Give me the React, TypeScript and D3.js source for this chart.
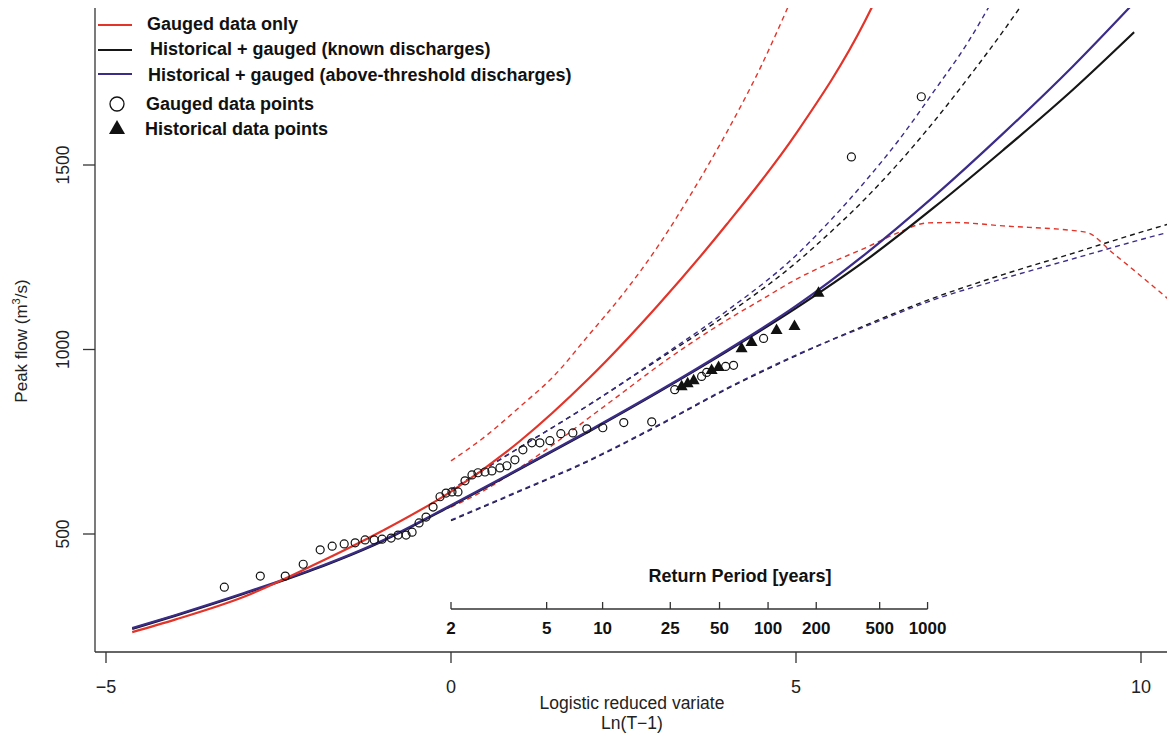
import React from "react";
import * as d3 from "d3";

// ---- data ----
const gaugedV = [-3.285,-2.764,-2.402,-2.142,-1.896,-1.722,-1.548,-1.389,-1.245,-1.114,-0.999,-0.868,-0.767,-0.651,-0.564,-0.463,-0.362,-0.26,-0.159,-0.072,0.014,0.101,0.203,0.304,0.391,0.492,0.593,0.709,0.81,0.926,1.042,1.172,1.288,1.433,1.592,1.766,1.968,2.2,2.504,2.909,3.242,3.632,3.705,3.98,4.095,4.53,5.803,6.816];
const gaugedQ = [356,386,386,418,457,467,473,476,484,484,486,489,497,497,505,530,546,573,601,611,614,614,644,660,666,668,671,679,685,701,728,747,747,753,772,774,785,788,802,804,891,927,938,954,957,1030,1522,1685];

const histV = [3.343,3.43,3.517,3.777,3.878,4.211,4.356,4.718,4.978,5.326];
const histQ = [902,910,918,946,954,1005,1022,1054,1065,1155];

const gaugedFitV = [-4.62,-4,-3,-2,-1,0,1,2,3,4,5,6,6.12];
const gaugedFitQ = [234,268,330,415,508,615,752,922,1120,1340,1585,1890,1935];
const gaugedUpV = [0,0.5,1,1.5,2,2.5,3,3.5,4,4.5,4.9];
const gaugedUpQ = [698,765,845,930,1040,1152,1280,1428,1590,1770,1935];
const gaugedLoV = [0,0.5,1,1.5,2,2.5,3,3.5,4,4.5,5,5.5,6,6.5,6.9,7.3,8,9.2,9.6,10.4];
const gaugedLoQ = [573,620,680,745,815,885,955,1020,1080,1135,1190,1235,1275,1318,1343,1344,1335,1318,1260,1136];

const knownV = [-4.62,-4,-3,-2,-1,0,1,2,3,4,5,6,7,8,9,9.9];
const knownQ = [243,278,338,403,480,576,676,778,884,995,1112,1240,1385,1540,1702,1860];
const knownUpV = [0,1,2,3,4,5,5.5,6,6.5,7,7.5,8,8.25];
const knownUpQ = [620,735,850,972,1095,1235,1318,1408,1508,1618,1737,1862,1928];
const knownLoV = [0,1,2,3,4,5,6,7,8,9,10,10.4];
const knownLoQ = [536,616,698,793,893,983,1065,1140,1203,1260,1318,1340];

const aboveV = [-4.62,-4,-3,-2,-1,0,1,2,3,4,5,6,7,8,9,9.9];
const aboveQ = [245,280,340,405,482,578,678,780,886,998,1118,1258,1415,1585,1765,1940];
const aboveUpV = [0,1,2,3,4,5,5.5,6,6.5,7,7.5,7.8];
const aboveUpQ = [620,735,850,975,1105,1255,1350,1455,1570,1700,1835,1930];
const aboveLoV = [0,1,2,3,4,5,6,7,8,9,10,10.4];
const aboveLoQ = [538,618,700,795,895,985,1062,1135,1192,1245,1298,1318];

const xTicks = [-5, 0, 5, 10];
const yTicks = [500, 1000, 1500];
const returnPeriods = [2, 5, 10, 25, 50, 100, 200, 500, 1000];

const legendItems = [
  "Gauged data only",
  "Historical + gauged (known discharges)",
  "Historical + gauged (above-threshold discharges)",
  "Gauged data points",
  "Historical data points",
];

const RED = "#e3342a";
const PURPLE = "#3b2c8a";
const BLACK = "#161616";
const FONT = "'Liberation Sans', Arial, Helvetica, sans-serif";

export default function App() {
  const W = 1167, H = 733;
  const left = 95, right = 1167, top = 8, bottom = 652;
  const x = d3.scaleLinear().domain([-5, 10]).range([106, 1141]);
  const y = d3.scaleLinear().domain([500, 1500]).range([534, 165]);

  const line = (vs: number[], qs: number[]) =>
    d3.line<number>().x((_, i) => x(vs[i])).y((q) => y(q)).curve(d3.curveMonotoneX)(qs) || "";

  const dashed = "5,4";
  const rpY = 609;

  return (
    <svg width={W} height={H} style={{ position: "absolute", left: 0, top: 0, background: "#fff" }} fontFamily={FONT}>
      <defs>
        <clipPath id="plot">
          <rect x={left} y={top} width={right - left} height={bottom - top} />
        </clipPath>
      </defs>
      <rect x={0} y={0} width={W} height={H} fill="#fff" />

      <g clipPath="url(#plot)" fill="none">
        {/* confidence bounds */}
        <path d={line(gaugedUpV, gaugedUpQ)} stroke={RED} strokeWidth={1.4} strokeDasharray={dashed} />
        <path d={line(gaugedLoV, gaugedLoQ)} stroke={RED} strokeWidth={1.4} strokeDasharray={dashed} />
        <path d={line(knownUpV, knownUpQ)} stroke={BLACK} strokeWidth={1.4} strokeDasharray={dashed} />
        <path d={line(knownLoV, knownLoQ)} stroke={BLACK} strokeWidth={1.4} strokeDasharray={dashed} />
        <path d={line(aboveUpV, aboveUpQ)} stroke={PURPLE} strokeWidth={1.4} strokeDasharray={dashed} />
        <path d={line(aboveLoV, aboveLoQ)} stroke={PURPLE} strokeWidth={1.4} strokeDasharray={dashed} />
        {/* fitted curves */}
        <path d={line(knownV, knownQ)} stroke={BLACK} strokeWidth={2.2} />
        <path d={line(aboveV, aboveQ)} stroke={PURPLE} strokeWidth={2.2} />
        <path d={line(gaugedFitV, gaugedFitQ)} stroke={RED} strokeWidth={2.2} />
        {/* points */}
        {gaugedV.map((v, i) => (
          <circle key={"g" + i} cx={x(v)} cy={y(gaugedQ[i])} r={4} stroke="#111" strokeWidth={1.2} fill="none" />
        ))}
        {histV.map((v, i) => {
          const cx = x(v), cy = y(histQ[i]);
          return (
            <path key={"h" + i} d={`M${cx},${cy - 6}L${cx + 6},${cy + 4.5}L${cx - 6},${cy + 4.5}Z`} fill="#111" stroke="none" />
          );
        })}
      </g>

      {/* axes frame (L shape) */}
      <line x1={left} y1={top} x2={left} y2={bottom} stroke="#333" strokeWidth={1.3} />
      <line x1={left} y1={bottom} x2={right} y2={bottom} stroke="#333" strokeWidth={1.3} />

      {/* x ticks */}
      {xTicks.map((t) => (
        <g key={"xt" + t}>
          <line x1={x(t)} x2={x(t)} y1={bottom} y2={bottom + 11} stroke="#333" strokeWidth={1.3} />
          <text x={x(t)} y={693} fontSize={18} textAnchor="middle" fill="#222">
            {t < 0 ? "\u2212" + Math.abs(t) : t}
          </text>
        </g>
      ))}
      <text x={632} y={709} fontSize={17.5} textAnchor="middle" fill="#222">Logistic reduced variate</text>
      <text x={632} y={729} fontSize={17.5} textAnchor="middle" fill="#222">Ln(T{"\u2212"}1)</text>

      {/* y ticks */}
      {yTicks.map((t) => (
        <g key={"yt" + t}>
          <line x1={left - 12} x2={left} y1={y(t)} y2={y(t)} stroke="#333" strokeWidth={1.3} />
          <text transform={`translate(69,${y(t)}) rotate(-90)`} fontSize={17.5} textAnchor="middle" fill="#222">
            {t}
          </text>
        </g>
      ))}
      <text transform="translate(27,341) rotate(-90)" fontSize={17} textAnchor="middle" fill="#222">
        Peak flow (m<tspan dy={-7} fontSize={11}>3</tspan><tspan dy={7}>/s)</tspan>
      </text>

      {/* return period axis */}
      <text x={740} y={582} fontSize={18} fontWeight="bold" textAnchor="middle" fill="#111">Return Period [years]</text>
      <line x1={x(Math.log(1))} x2={x(Math.log(999))} y1={rpY} y2={rpY} stroke="#333" strokeWidth={1.3} />
      {returnPeriods.map((T) => {
        const px = x(Math.log(T - 1));
        return (
          <g key={"rp" + T}>
            <line x1={px} x2={px} y1={rpY - 7} y2={rpY} stroke="#333" strokeWidth={1.3} />
            <text x={px} y={634} fontSize={17} fontWeight="bold" textAnchor="middle" fill="#111">{T}</text>
          </g>
        );
      })}

      {/* legend */}
      <line x1={98} x2={132} y1={25} y2={25} stroke={RED} strokeWidth={2} />
      <line x1={98} x2={132} y1={50} y2={50} stroke={BLACK} strokeWidth={2} />
      <line x1={98} x2={132} y1={74} y2={74} stroke={PURPLE} strokeWidth={2} />
      <circle cx={117} cy={104} r={7} fill="none" stroke="#111" strokeWidth={1.3} />
      <path d="M117,120L125,134L109,134Z" fill="#111" />
      {legendItems.map((s, i) => {
        const xs = [147, 150, 148, 146, 145];
        const ys = [30, 55, 81, 110, 135];
        return (
          <text key={"lg" + i} x={xs[i]} y={ys[i]} fontSize={18} fontWeight="bold" fill="#111">{s}</text>
        );
      })}
    </svg>
  );
}
